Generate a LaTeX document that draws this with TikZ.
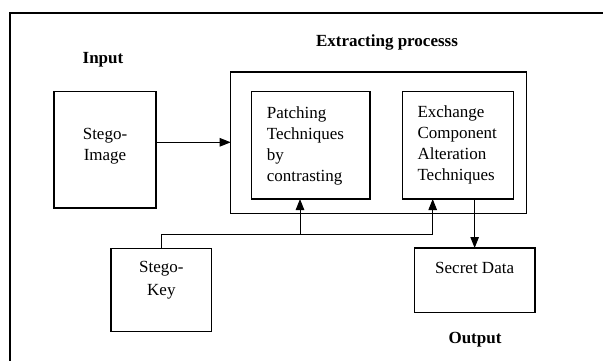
\documentclass[tikz,border=0pt]{standalone}
\usepackage{fontspec}
\setmainfont{Liberation Serif}
\usetikzlibrary{arrows.meta}
\newcommand\txtstack[2][l]{\begin{tabular}[t]{@{}#1@{}}#2\end{tabular}}
\begin{document}
\begin{tikzpicture}[x=1pt,y=-1pt,
  box/.style={draw, line width=1.5pt, inner sep=0pt, outer sep=0pt},
  txt/.style={inner sep=0pt, font=\fontsize{17}{21.2}\selectfont},
  title/.style={inner sep=0pt, font=\fontsize{17}{21}\selectfont\bfseries},
  wire/.style={line width=1pt},
  arr/.style={wire, -{Triangle[length=11pt,width=8.5pt]}}]
\useasboundingbox (0,0) rectangle (603,360);
\clip (0,0) rectangle (603,360);

% outer frame, running off the right and bottom edges
\draw[line width=2pt] (9.5,12.5) rectangle (640,400);

% headings
\node[title] (hin)  at (103,60)  {Input};
\node[title] (hext) at (387,42)  {Extracting processs};
\node[title] (hout) at (475,340) {Output};

% boxes
\node[box, minimum width=102pt,   minimum height=116.7pt] (img)    at (105,149.65)    {};
\node[box, minimum width=295.6pt, minimum height=141.3pt] (proc)   at (378.5,142.65)  {};
\node[box, minimum width=118.3pt, minimum height=107.3pt] (patch)  at (310.85,145.35) {};
\node[box, minimum width=111pt,   minimum height=107.3pt] (exch)   at (457.8,145.35)  {};
\node[box, minimum width=100.7pt, minimum height=83.4pt]  (key)    at (161.35,290)    {};
\node[box, minimum width=120.7pt, minimum height=64.7pt]  (secret) at (474.65,280.35) {};

% box texts
\node[txt, anchor=base] (timg) at (105,139.7) {\txtstack[c]{Stego-\\Image}};
\node[txt, anchor=base west] (tpatch) at (266.7,118) {\txtstack{Patching\\Techniques\\by\\contrasting}};
\node[txt, anchor=base west] (texch) at (417.3,117.3) {\txtstack{Exchange\\Component\\Alteration\\Techniques}};
\node[txt, anchor=base] (tkey) at (161.35,272.3) {\txtstack[c]{Stego-\\[1.5pt]Key}};
\node[txt, anchor=base] (tsecret) at (474.65,273) {Secret Data};

% connectors
\coordinate (imgout) at (156,142.3);
\draw[arr] (imgout) -- (imgout -| proc.west);

\coordinate (tapP) at (300,234.3);
\coordinate (tapE) at (432.7,234.3);
\draw[wire] (key.north) |- (tapE);
\draw[arr] (tapP) -- (tapP |- patch.south);
\draw[arr] (tapE) -- (tapE |- exch.south);

\draw[arr] (secret.north |- exch.south) -- (secret.north);
\end{tikzpicture}
\end{document}
